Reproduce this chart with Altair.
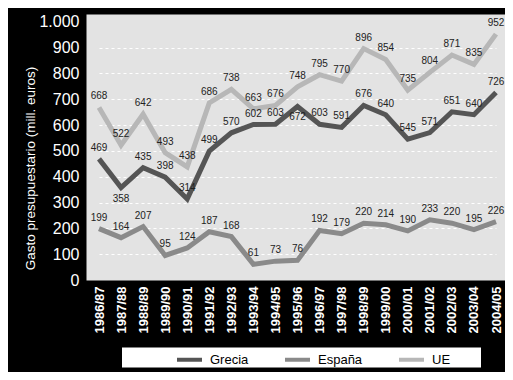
import altair as alt
import pandas as pd

periods = ["1986/87", "1987/88", "1988/89", "1989/90", "1990/91", "1991/92", "1992/93",
           "1993/94", "1994/95", "1995/96", "1996/97", "1997/98", "1998/99", "1999/00",
           "2000/01", "2001/02", "2002/03", "2003/04", "2004/05"]
grecia = [469, 358, 435, 398, 314, 499, 570, 602, 603, 672, 603, 591, 676, 640, 545, 571, 651, 640, 726]
espana = [199, 164, 207, 95, 124, 187, 168, 61, 73, 76, 192, 179, 220, 214, 190, 233, 220, 195, 226]
ue = [668, 522, 642, 493, 438, 686, 738, 663, 676, 748, 795, 770, 896, 854, 735, 804, 871, 835, 952]

series_names = ["Grecia", "España", "UE"]
series_colors = ["#555555", "#8a8a8a", "#b7b7b7"]
labels_below = [("Grecia", "1987/88"), ("Grecia", "1995/96")]

rows = []
for name, vals in zip(series_names, [grecia, espana, ue]):
    for p, v in zip(periods, vals):
        rows.append({"serie": name, "periodo": p, "valor": v,
                     "abajo": (name, p) in labels_below})
df = pd.DataFrame(rows)

x_enc = alt.X("periodo:O", sort=periods,
              scale=alt.Scale(type="point", domain=periods, range=[13, 410], padding=0),
              axis=alt.Axis(title=None, labelAngle=-90, labelColor="white",
                            labelFont="Arial", labelFontSize=13, labelFontWeight="bold",
                            labelPadding=6, domain=False, ticks=False, grid=False))
y_enc = alt.Y("valor:Q",
              scale=alt.Scale(domain=[0, 1030], nice=False, zero=True),
              axis=alt.Axis(values=list(range(0, 1001, 100)),
                            labelExpr="replace(format(datum.value, ','), ',', '.')",
                            title="Gasto presupuestario (mill. euros)",
                            titleColor="white", titleFont="Arial", titleFontSize=13.5,
                            titleFontWeight="normal", titleAngle=-90, titleX=-56, titleY=154,
                            titleAlign="center", titleBaseline="middle",
                            labelColor="white", labelFont="Arial", labelFontSize=16,
                            labelPadding=7, domain=False, ticks=False,
                            grid=True, gridColor="white", gridDash=[3, 3], gridWidth=1,
                            gridOpacity=alt.condition("datum.value > 0 && datum.value < 1000", alt.value(1), alt.value(0))))

base = alt.Chart(df)

box = alt.Chart(pd.DataFrame({"k": [0]})).mark_rect(color="white").encode(
    x=alt.value(36), x2=alt.value(395), y=alt.value(333.5), y2=alt.value(353.5))

lines = base.mark_line(strokeWidth=5, strokeJoin="miter").encode(
    x=x_enc, y=y_enc,
    color=alt.Color("serie:N", sort=series_names,
                    scale=alt.Scale(domain=series_names, range=series_colors),
                    legend=alt.Legend(orient="none", legendX=89, legendY=331,
                                      direction="horizontal", title=None,
                                      symbolType="stroke", symbolSize=625,
                                      symbolStrokeWidth=4, labelFontSize=13,
                                      labelFont="Arial", labelColor="black",
                                      columnPadding=28, labelOffset=6, padding=0)),
    order=alt.Order("periodo:O"))

text_font = "Liberation Sans, Arial, sans-serif"
labels_above = base.transform_filter("!datum.abajo").mark_text(
    dy=-11, font=text_font, fontSize=10, color="#222222").encode(
    x=x_enc, y=y_enc, text="valor:Q")
labels_under = base.transform_filter("datum.abajo").mark_text(
    dy=11, font=text_font, fontSize=10, color="#222222").encode(
    x=x_enc, y=y_enc, text="valor:Q")

chart = alt.layer(box, lines, labels_above, labels_under).properties(
    width=419, height=266,
    autosize=alt.AutoSizeParams(type="none"),
    padding={"left": 78, "top": 6, "right": 0, "bottom": 92},
    background="black"
).configure_view(fill="#e3e3e3", strokeOpacity=0)

chart.save("out.html", embed_options={"renderer": "svg", "actions": False})
